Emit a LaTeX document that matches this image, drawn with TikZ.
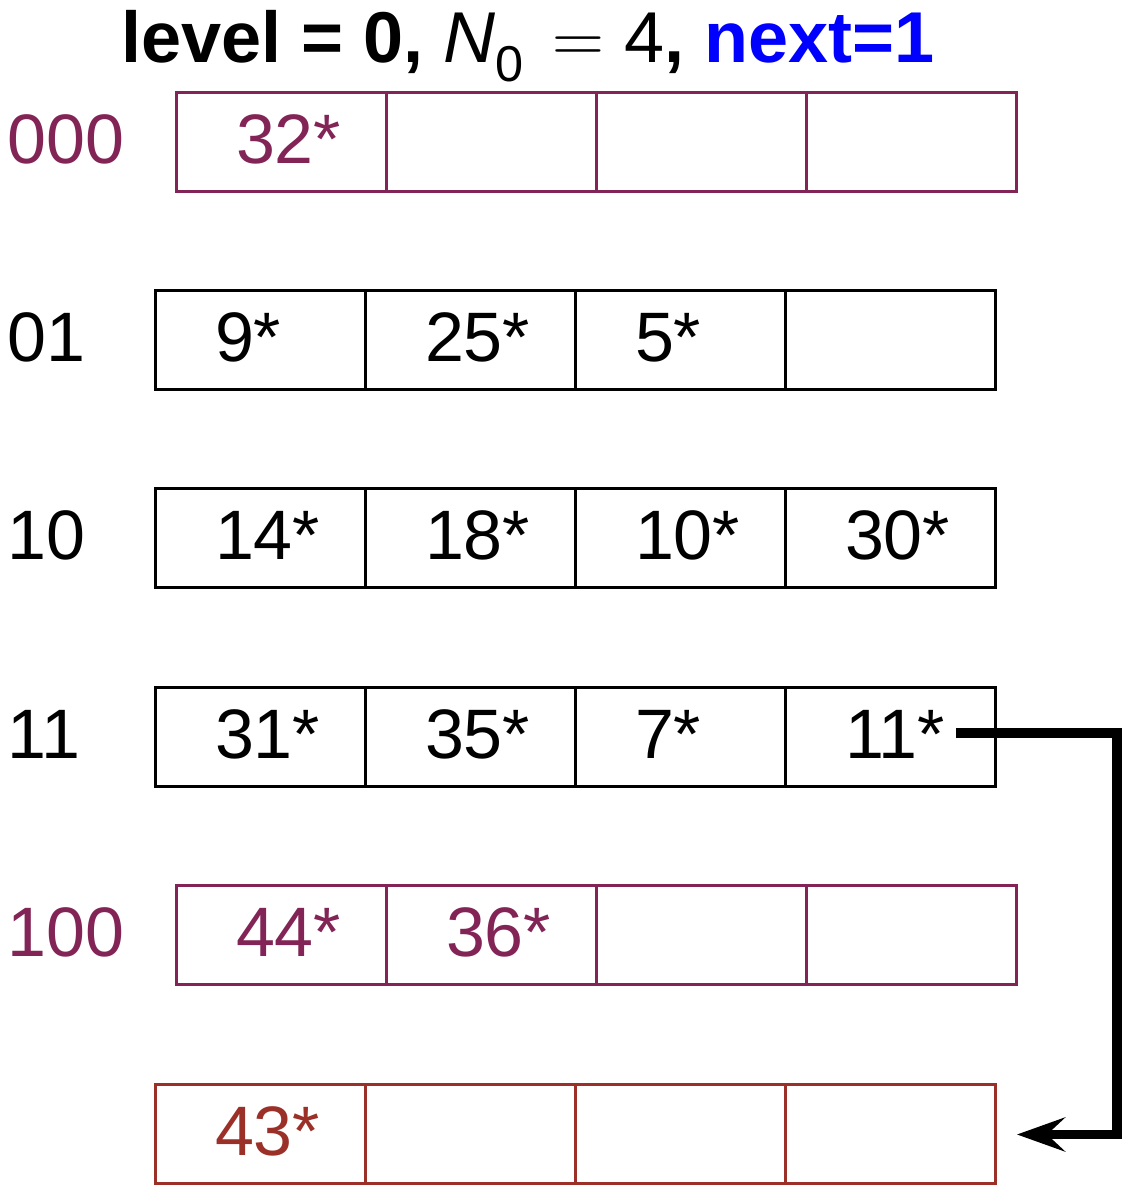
\documentclass[tikz,border=0pt]{standalone}
\usepackage{fontspec}
\setmainfont{Liberation Sans}
\newfontfamily\lmr{Latin Modern Roman}
\usetikzlibrary{positioning,arrows.meta}
\definecolor{imgcol}{RGB}{130,36,86}
\definecolor{ovflcol}{RGB}{155,48,40}
\begin{document}
\begin{tikzpicture}[x=0.5pt,y=0.5pt]
	\tikzstyle{b} = [draw, shape=rectangle, line width=1.5pt, outer sep=0pt,
		inner ysep=0pt, inner xsep=30pt, minimum width=105pt, minimum height=49.5pt,
		text width=45pt, align=left, text height=25pt, text depth=3.5pt,
		font=\fontsize{35}{40}\selectfont]
	\tikzstyle{img} = [draw=imgcol, text=imgcol]
	\tikzstyle{ovfl} = [draw=ovflcol, text=ovflcol]
	\tikzstyle{lbl} = [anchor=west, inner sep=0pt, text height=25pt, text depth=3.5pt,
		font=\fontsize{35}{40}\selectfont]
	\useasboundingbox (0,0) rectangle (1130,1196);
	% title
	\node[anchor=base west, inner sep=0pt, font=\fontsize{36}{40}\selectfont] (title) at (121,1133)
		{\bfseries level = 0, \mdseries{\itshape N}\textsubscript{0}\hspace{14pt}{\lmr =}\hspace{10pt}4\bfseries, \textcolor{blue}{next=1}};
	% bucket 000
	\node[b, img] (r000-a) at (281,1053.5) {32*};
	\node[b, img, right=0pt of r000-a] (r000-b) {};
	\node[b, img, right=0pt of r000-b] (r000-c) {};
	\node[b, img, right=0pt of r000-c] (r000-d) {};
	\node[lbl, text=imgcol] (l000) at (7,1053.5) {000};
	% bucket 01
	\node[b] (r01-a) at (260,855.5) {9*};
	\node[b, right=0pt of r01-a] (r01-b) {25*};
	\node[b, right=0pt of r01-b] (r01-c) {5*};
	\node[b, right=0pt of r01-c] (r01-d) {};
	\node[lbl] (l01) at (7,855.5) {01};
	% bucket 10
	\node[b] (r10-a) at (260,657.5) {14*};
	\node[b, right=0pt of r10-a] (r10-b) {18*};
	\node[b, right=0pt of r10-b] (r10-c) {10*};
	\node[b, right=0pt of r10-c] (r10-d) {30*};
	\node[lbl] (l10) at (7,657.5) {10};
	% bucket 11
	\node[b] (r11-a) at (260,458.5) {31*};
	\node[b, right=0pt of r11-a] (r11-b) {35*};
	\node[b, right=0pt of r11-b] (r11-c) {7*};
	\node[b, right=0pt of r11-c] (r11-d) {11*};
	\node[lbl] (l11) at (7,458.5) {11};
	% bucket 100
	\node[b, img] (r100-a) at (281,260.5) {44*};
	\node[b, img, right=0pt of r100-a] (r100-b) {36*};
	\node[b, img, right=0pt of r100-b] (r100-c) {};
	\node[b, img, right=0pt of r100-c] (r100-d) {};
	\node[lbl, text=imgcol] (l100) at (7,260.5) {100};
	% overflow page
	\node[b, ovfl] (rx-a) at (260,61.5) {43*};
	\node[b, ovfl, right=0pt of rx-a] (rx-b) {};
	\node[b, ovfl, right=0pt of rx-b] (rx-c) {};
	\node[b, ovfl, right=0pt of rx-c] (rx-d) {};
	% overflow pointer
	\draw[line width=4.75pt, -{Stealth[length=24pt,width=17pt,inset=9pt]}]
		([xshift=-19.5pt,yshift=2.25pt]r11-d.east) -- ++(80.5pt,0) |- ([xshift=11pt]rx-d.east);
\end{tikzpicture}
\end{document}
